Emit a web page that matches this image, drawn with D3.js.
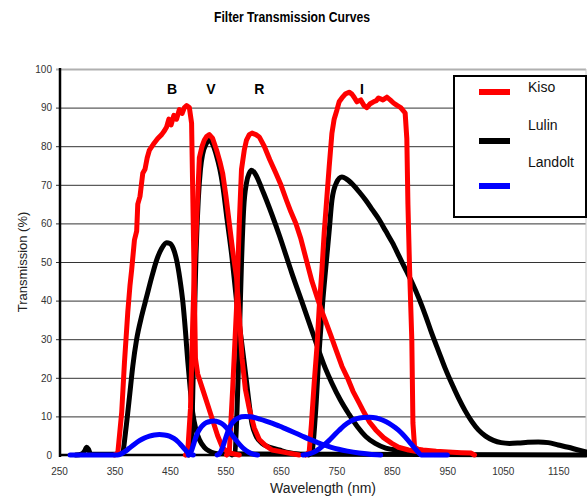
<!DOCTYPE html>
<html><head><meta charset="utf-8">
<script src="https://cdn.jsdelivr.net/npm/d3@7"></script>
<style>body{margin:0;background:#fff;}svg{display:block;}</style>
</head><body><div id="chart"></div>
<script>
// ---------------- DATA ----------------
const xTicks = [250, 350, 450, 550, 650, 750, 850, 950, 1050, 1150];
const yTicks = [0, 10, 20, 30, 40, 50, 60, 70, 80, 90, 100];
const filterLabels = ["B", "V", "R", "I"];
const filterLabelNm = [454, 524, 611, 796];
const legendNames = ["Kiso", "Lulin", "Landolt"];

// Kiso (red)
const kisoB_nm = [350,356,363,368,374,378,381,386,390,392,396,401,405,409,413,420,428,435,440,444,448,452,457,462,467,472,476,480,485,489,491,494,496,500,509,518,527,536,545,557,575];
const kisoB_T  = [0,0.5,11,24,37,44,48,55.7,58,65,67,73,74,77,79,80.5,82,83,84,85,87,85.5,88,87,89.5,88.5,90,90.5,90,86,68.6,42.7,25,21,17,13,9,5,1.8,0.5,0];
const kisoV_nm = [478,482,487,491,494,498,503,508,512,516,521,527,534,540,545,551,557,563,570,575,580,586,593,602,611,622,634,652,683];
const kisoV_T  = [0,0.8,12,34,48,60,77,80,81.6,82.5,83,82,79,76,73,67,60,53,46,36,25,17,12,7,4,2.5,1.3,0.8,0];
const kisoR_nm = [552,557,563,570,575,579,584,588,593,598,605,611,620,630,641,650,660,668,677,686,695,706,715,723,731,740,750,760,770,780,791,800,810,821,835,850,862,880,898,934];
const kisoR_T  = [0,0.8,17,38,60,74,79,81.6,83,83.4,83,82.4,80,76.5,73,70,66,63,60,56,51,45,41,37.5,34.5,31,27,23,20,16.5,13.5,11,8.5,6.5,4.5,3,2,1.3,0.8,0.3];
const kisoI_nm = [695,701,705,710,715,719,724,728,733,737,742,746,751,755,760,766,773,778,782,787,794,800,805,811,817,822,826,834,841,847,853,860,866,874,877,879,882,886,888,891,897,906,930,952,975,993,999];
const kisoI_T  = [0,0.8,8,18.6,28,38,48,57.5,67,74.6,83.4,87,89.4,91.5,92.5,93.5,94,93.5,92.7,91.5,92,90.5,90,91,91.5,91.8,92.5,92,92.7,92,91.2,90.5,90,88.6,82,65,48,29.8,8.3,2,1.5,1.3,1,0.8,0.6,0.5,0];

// Lulin (black)
const lulinB_nm = [280,290,296,300,303,307,312,330,350,360,365,370,377,383,390,399,408,417,426,435,444,450,456,462,468,473,478,482,487,491,497,503,512,521,530,540,1200];
const lulinB_T  = [0,0.2,1,2,1.5,0.3,0.2,0.2,0.2,0.3,0.8,6,15,23,30,36,41,46,50.5,53.5,55,54.8,53.5,50.5,45.5,40,32,24.5,16.5,11,6.5,4,2,1,0.5,0.3,0];
const lulinV_nm = [484,487,491,494,497,501,505,509,515,521,527,534,540,545,553,562,570,575,582,588,593,598,605,616,630,647,665,683];
const lulinV_T  = [0,0.5,15,35,52,66,74,78,80.5,81.6,80.5,77.5,74,70,61,51,40,34,26,19,13,8,5,3,2,1.3,0.6,0.2];
const lulinR_nm = [562,567,571,575,579,583,588,593,597,603,610,617,624,647,670,692,710,730,742,757,773,788,803,820,839,865,893,930];
const lulinR_T  = [0,0.5,12,30,50,64,70.5,73,73.8,73,71,68.5,66,57,47,38,30.5,22.5,18.6,14.3,10.5,7.3,4.8,3,1.8,1.2,0.8,0.3];
const lulinI_nm = [700,706,712,719,725,731,737,742,750,760,768,780,792,803,815,827,839,851,863,875,887,899,911,922,934,946,958,970,982,994,1006,1019,1033,1047,1062,1078,1095,1114,1132,1150,1168,1186,1200];
const lulinI_T  = [0,0.8,10,27,39,48.7,58,66,70.5,72,71.5,70,68,66,63.5,61,58,55,51.5,48,44.5,40.5,36,31.5,27,22.5,18.5,14.8,11.5,8.7,6.5,4.9,3.8,3.2,3.0,3.1,3.3,3.4,3.2,2.6,2,1.3,0.8];

// Landolt (blue)
const landoltB_nm = [270,355,362,370,377,386,395,404,413,422,431,440,449,457,464,470,476,481,486,492];
const landoltB_T  = [0,0,0.3,1,1.8,2.8,3.7,4.4,4.9,5.2,5.3,5.2,4.9,4.3,3.5,2.6,1.6,0.8,0.2,0];
const landoltV_nm = [483,488,492,496,500,505,510,516,523,530,537,544,551,557,563,570,577,584,592,600,608];
const landoltV_T  = [0,0.8,2.5,4.3,5.8,7,7.8,8.4,8.7,8.8,8.6,8.1,7.2,6.2,5,3.7,2.5,1.5,0.7,0.2,0];
const landoltR_nm = [535,540,545,550,555,560,566,572,579,586,594,602,612,623,635,647,660,673,687,701,715,728,741,754,770,791,810,830];
const landoltR_T  = [0,0.5,2,4.2,6.3,7.8,8.9,9.5,9.9,10,9.9,9.7,9.3,8.8,8.2,7.5,6.7,5.9,5,4.1,3.3,2.6,2,1.5,1,0.5,0.2,0];
const landoltI_nm = [690,701,710,719,728,737,746,755,764,775,787,798,810,822,834,845,856,866,875,884,891,897,903,950];
const landoltI_T  = [0,0.3,0.8,1.6,2.6,3.8,5.1,6.4,7.6,8.7,9.4,9.7,9.8,9.6,9.0,8.2,7.1,5.9,4.5,3.0,1.8,0.8,0,0];

// ---------------- DRAW ----------------
const W = 587, H = 496;
const svg = d3.select("#chart").append("svg").attr("width", W).attr("height", H);
const x = d3.scaleLinear().domain([250, 1200]).range([59, 586]);
const y = d3.scaleLinear().domain([0, 100]).range([455, 69]);
const FONT = "'Liberation Sans', Arial, sans-serif";

// title
svg.append("text").attr("x", 292).attr("y", 22).attr("text-anchor", "middle")
  .attr("font-family", "'Liberation Sans Narrow','Liberation Sans',Arial,sans-serif")
  .attr("font-weight", "bold").attr("font-size", 14)
  .attr("textLength", 156).attr("lengthAdjust", "spacingAndGlyphs")
  .text("Filter Transmission Curves");

// gridlines
svg.append("g").selectAll("line").data(yTicks.filter(d => d > 0)).join("line")
  .attr("x1", 56).attr("x2", 586)
  .attr("y1", d => y(d) + 0.5).attr("y2", d => y(d) + 0.5)
  .attr("stroke", d => d === 100 ? "#b0b0b0" : "#333")
  .attr("stroke-width", d => d === 100 ? 2 : 1);
// right border
svg.append("line").attr("x1", 586).attr("x2", 586).attr("y1", 69).attr("y2", 455)
  .attr("stroke", "#c8c8c8").attr("stroke-width", 1);

// y axis
const yAxis = svg.append("g").attr("transform", "translate(60,0)")
  .call(d3.axisLeft(y).tickValues(yTicks).tickSize(0).tickPadding(8).tickFormat(d3.format("d")));
yAxis.select(".domain").remove();
yAxis.selectAll("text").attr("font-family", FONT).attr("font-size", 10).attr("fill", "#333");
// x axis
const xAxis = svg.append("g").attr("transform", "translate(0,455)")
  .call(d3.axisBottom(x).tickValues(xTicks).tickSize(0).tickPadding(13).tickFormat(d3.format("d")));
xAxis.select(".domain").remove();
xAxis.selectAll("text").attr("font-family", FONT).attr("font-size", 10).attr("fill", "#333");

// axis lines
svg.append("line").attr("x1", 60).attr("x2", 60).attr("y1", 68).attr("y2", 457)
  .attr("stroke", "#000").attr("stroke-width", 2.5);
svg.append("line").attr("x1", 59).attr("x2", 586).attr("y1", 455).attr("y2", 455)
  .attr("stroke", "#000").attr("stroke-width", 2.5);

// axis titles
svg.append("text").attr("transform", "translate(27,262) rotate(-90)")
  .attr("text-anchor", "middle").attr("font-family", FONT).attr("font-size", 13)
  .attr("fill", "#222").text("Transmission (%)");
svg.append("text").attr("x", 323).attr("y", 493).attr("text-anchor", "middle")
  .attr("font-family", FONT).attr("font-size", 14).attr("fill", "#222").text("Wavelength (nm)");

// curves
const zip = (a, b) => a.map((v, i) => [v, b[i]]);
const lineLin = d3.line().x(d => x(d[0])).y(d => y(d[1]));
const lineSmooth = d3.line().x(d => x(d[0])).y(d => y(d[1])).curve(d3.curveMonotoneX);

const series = [
  { data: zip(lulinB_nm, lulinB_T), color: "#000", gen: lineSmooth, w: 5 },
  { data: zip(lulinV_nm, lulinV_T), color: "#000", gen: lineSmooth, w: 5 },
  { data: zip(lulinR_nm, lulinR_T), color: "#000", gen: lineSmooth, w: 5 },
  { data: zip(lulinI_nm, lulinI_T), color: "#000", gen: lineSmooth, w: 5 },
  { data: zip(kisoB_nm, kisoB_T), color: "#ff0000", gen: lineLin, w: 5 },
  { data: zip(kisoV_nm, kisoV_T), color: "#ff0000", gen: lineLin, w: 5 },
  { data: zip(kisoR_nm, kisoR_T), color: "#ff0000", gen: lineLin, w: 5 },
  { data: zip(kisoI_nm, kisoI_T), color: "#ff0000", gen: lineLin, w: 5 },
  { data: zip(landoltB_nm, landoltB_T), color: "#0000ff", gen: lineSmooth, w: 5 },
  { data: zip(landoltV_nm, landoltV_T), color: "#0000ff", gen: lineSmooth, w: 5 },
  { data: zip(landoltR_nm, landoltR_T), color: "#0000ff", gen: lineSmooth, w: 5 },
  { data: zip(landoltI_nm, landoltI_T), color: "#0000ff", gen: lineSmooth, w: 5 }
];
svg.append("g").selectAll("path").data(series).join("path")
  .attr("d", s => s.gen(s.data)).attr("fill", "none")
  .attr("stroke", s => s.color).attr("stroke-width", s => s.w)
  .attr("stroke-linejoin", "round").attr("stroke-linecap", "round");

// filter labels
svg.append("g").selectAll("text").data(filterLabels).join("text")
  .attr("x", (d, i) => x(filterLabelNm[i])).attr("y", 94).attr("text-anchor", "middle")
  .attr("font-family", FONT).attr("font-weight", "bold").attr("font-size", 14)
  .text(d => d);

// legend
const legColors = ["#ff0000", "#000", "#0000ff"];
const legLineY = [92, 141, 186];
const legTextY = [92, 130, 167];
svg.append("rect").attr("x", 454).attr("y", 76).attr("width", 132).attr("height", 141)
  .attr("fill", "#fff").attr("stroke", "#000").attr("stroke-width", 2);
const lg = svg.append("g");
lg.selectAll("line").data(legendNames).join("line")
  .attr("x1", 479).attr("x2", 510).attr("y1", (d, i) => legLineY[i]).attr("y2", (d, i) => legLineY[i])
  .attr("stroke", (d, i) => legColors[i]).attr("stroke-width", 6);
lg.selectAll("text").data(legendNames).join("text")
  .attr("x", 528).attr("y", (d, i) => legTextY[i])
  .attr("font-family", FONT).attr("font-size", 14).attr("fill", "#111").text(d => d);
</script></body></html>
